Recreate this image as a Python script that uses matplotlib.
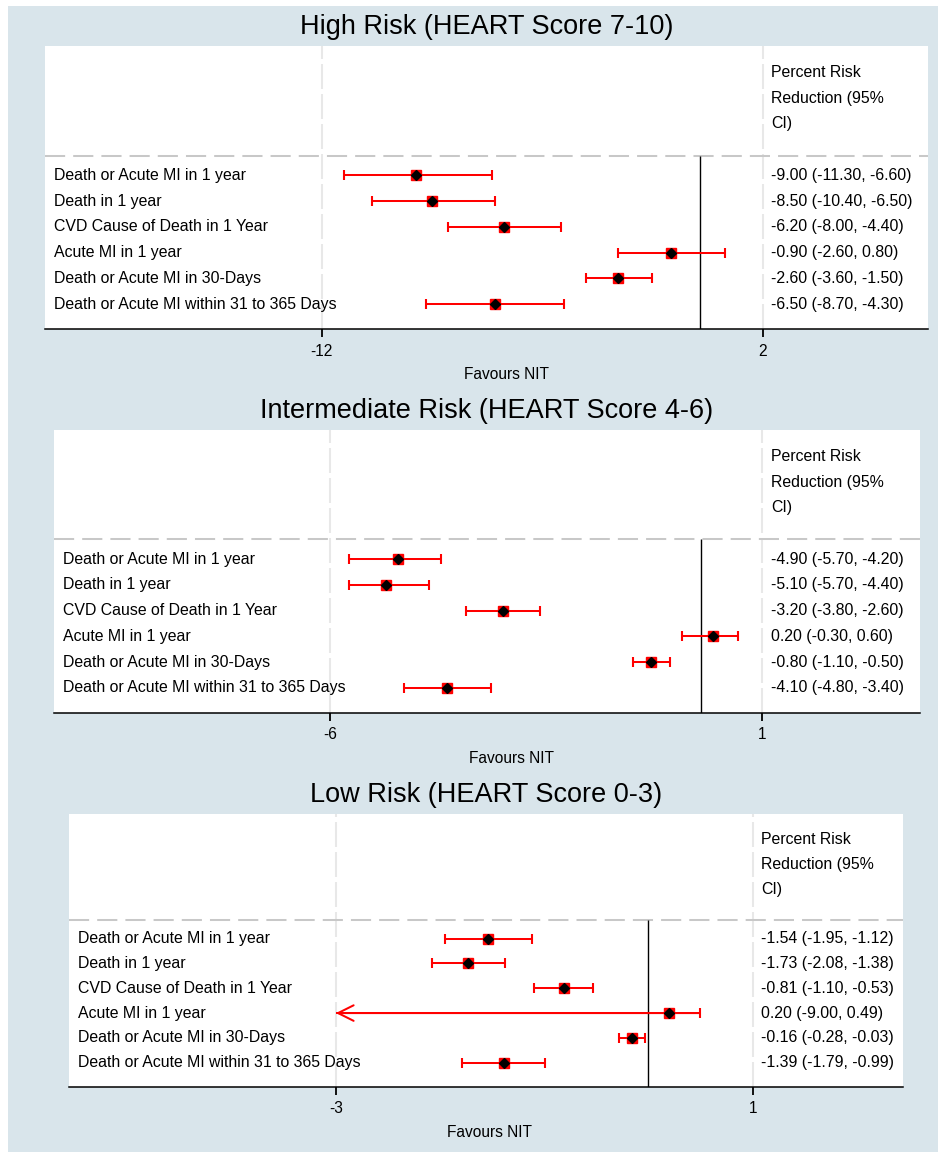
import matplotlib
matplotlib.use("Agg")
import matplotlib.pyplot as plt
from matplotlib.patches import Rectangle

plt.rcParams['font.family'] = ['Liberation Sans', 'DejaVu Sans']

# ---------------- data ----------------
outcomes = [
    "Death or Acute MI in 1 year",
    "Death in 1 year",
    "CVD Cause of Death in 1 Year",
    "Acute MI in 1 year",
    "Death or Acute MI in 30-Days",
    "Death or Acute MI within 31 to 365 Days",
]

titles = [
    "High Risk (HEART Score 7-10)",
    "Intermediate Risk (HEART Score 4-6)",
    "Low Risk (HEART Score 0-3)",
]

high_est = [-9.00, -8.50, -6.20, -0.90, -2.60, -6.50]
high_lo = [-11.30, -10.40, -8.00, -2.60, -3.60, -8.70]
high_hi = [-6.60, -6.50, -4.40, 0.80, -1.50, -4.30]
high_ticks = [-12, 2]

mid_est = [-4.90, -5.10, -3.20, 0.20, -0.80, -4.10]
mid_lo = [-5.70, -5.70, -3.80, -0.30, -1.10, -4.80]
mid_hi = [-4.20, -4.40, -2.60, 0.60, -0.50, -3.40]
mid_ticks = [-6, 1]

low_est = [-1.54, -1.73, -0.81, 0.20, -0.16, -1.39]
low_lo = [-1.95, -2.08, -1.10, -9.00, -0.28, -1.79]
low_hi = [-1.12, -1.38, -0.53, 0.49, -0.03, -0.99]
low_ticks = [-3, 1]

header_lines = ["Percent Risk", "Reduction (95%", "CI)"]
xlabel = "Favours NIT"

# ---------------- layout ----------------
W, H = 938, 1152
fig = plt.figure(figsize=(W / 100, H / 100), dpi=100)
fig.patch.set_facecolor('white')
BG = '#D9E5EB'
fig.add_artist(Rectangle((8 / W, 0), (W - 8) / W, (H - 6) / H,
                         transform=fig.transFigure, facecolor=BG,
                         edgecolor='none', zorder=-10))

panels = [
    dict(box=(45, 46, 928, 329), xlim=(-20.78, 7.25), title_y=27,
         est=high_est, lo=high_lo, hi=high_hi, ticks=high_ticks),
    dict(box=(54, 430, 920, 712.7), xlim=(-10.47, 3.55), title_y=410.7,
         est=mid_est, lo=mid_lo, hi=mid_hi, ticks=mid_ticks),
    dict(box=(69, 814, 903.3, 1086.7), xlim=(-5.56, 2.445), title_y=795,
         est=low_est, lo=low_lo, hi=low_hi, ticks=low_ticks),
]

FS = 11.4
RED = '#FF0000'

for p, title in zip(panels, titles):
    l, t, r, b = p['box']
    ax = fig.add_axes([l / W, 1 - b / H, (r - l) / W, (b - t) / H])
    ax.set_facecolor('white')
    ax.set_xlim(*p['xlim'])
    ax.set_ylim(6.97, -4.03)
    for s in ['left', 'right', 'top']:
        ax.spines[s].set_visible(False)
    ax.spines['bottom'].set_linewidth(1.1)
    ax.spines['bottom'].set_color('black')
    ax.set_yticks([])
    ticks = p['ticks']
    ax.set_xticks(ticks)
    ax.set_xticklabels([str(v) for v in ticks], fontsize=FS * 0.98)
    ax.tick_params(axis='x', length=6, width=1.3, pad=4.5, color='black')

    # grid lines at ticks
    for tv in ticks:
        ax.axvline(tv, color='#E8E8E8', lw=1.5, dashes=(12, 2.4), zorder=0.5)

    # header separator
    ax.axhline(0.23, color='#C8C8C8', lw=1.45, dashes=(10, 4), zorder=1)

    # null line
    ax.plot([0, 0], [0.23, 6.97], color='black', lw=1.0, zorder=2,
            solid_capstyle='butt')

    rows = list(range(1, len(outcomes) + 1))
    xmin_rng = ticks[0]
    for row, e, lo, hi in zip(rows, p['est'], p['lo'], p['hi']):
        lo_c = max(lo, xmin_rng)
        ax.plot([lo_c, hi], [row, row], color=RED, lw=1.45, zorder=3,
                solid_capstyle='butt')
        ax.plot([hi], [row], marker='|', ms=6.5, mew=1.5, color=RED, zorder=3)
        if lo >= xmin_rng:
            ax.plot([lo], [row], marker='|', ms=6.5, mew=1.5, color=RED, zorder=3)
        else:
            ax.annotate('', xy=(lo_c, row), xytext=(hi, row),
                        arrowprops=dict(arrowstyle='->,head_length=0.8,head_width=0.4',
                                        color=RED, lw=1.45, mutation_scale=14,
                                        shrinkA=0, shrinkB=0), zorder=3)
        ax.plot([e], [row], marker='s', ms=7, color=RED, mec=RED, zorder=4)
        ax.plot([e], [row], marker='D', ms=5.2, color='black', mec='black', zorder=5)

    # row labels
    for row, lab in zip(rows, outcomes):
        ax.annotate(lab, xy=(0, row), xycoords=('axes fraction', 'data'),
                    xytext=(6.5, 0), textcoords='offset points',
                    ha='left', va='center', fontsize=FS)

    # CI text
    for row, e, lo, hi in zip(rows, p['est'], p['lo'], p['hi']):
        s = f"{e:.2f} ({lo:.2f}, {hi:.2f})"
        ax.annotate(s, xy=(ticks[1], row), xycoords='data',
                    xytext=(6.3, 0), textcoords='offset points',
                    ha='left', va='center', fontsize=FS)
    for i, hl in enumerate(header_lines):
        ax.annotate(hl, xy=(ticks[1], -3 + i), xycoords='data',
                    xytext=(6.3, 0), textcoords='offset points',
                    ha='left', va='center', fontsize=FS)

    # Favours label
    ax.annotate(xlabel, xy=(ticks[0] * 0.51, 0), xycoords=('data', 'axes fraction'),
                xytext=(0, -33), textcoords='offset points',
                ha='center', va='center', fontsize=FS * 0.98)

    # title
    fig.text((l + r) / 2 / W, 1 - p['title_y'] / H, title,
             ha='center', va='center', fontsize=19.5)

fig.savefig('out.png', dpi=100, facecolor=fig.get_facecolor())
